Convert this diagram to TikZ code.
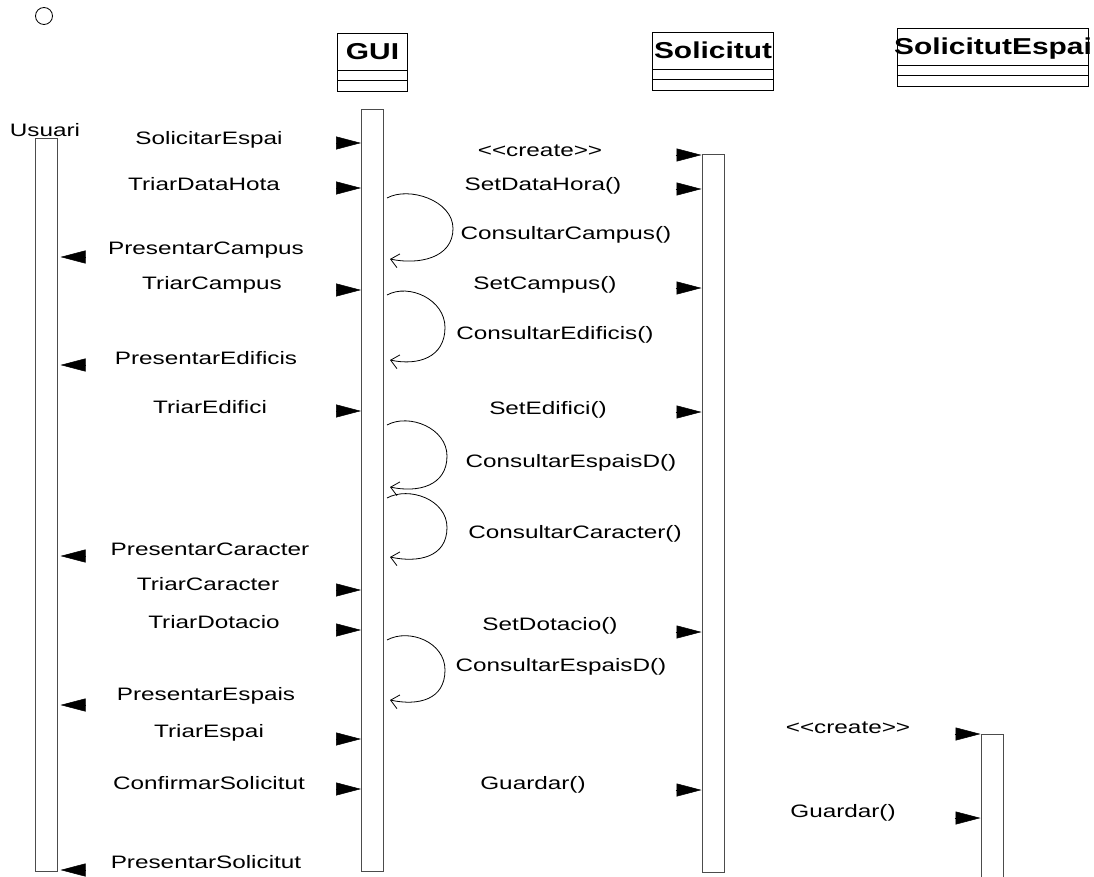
\documentclass[tikz,border=0pt]{standalone}
\usepackage{fontspec}
\setmainfont[FakeStretch=1.35,Ligatures=TeXOff]{Liberation Sans}
\newfontfamily\clsfont[FakeStretch=1.30]{Liberation Sans}
\usetikzlibrary{arrows.meta}

\tikzset{
  lifeline/.style={draw=black!70, fill=white, line width=1pt, minimum width=22pt, inner sep=0pt},
  clsbox/.style={draw, line width=1pt, inner sep=0pt},
  clsname/.style={font=\clsfont\bfseries\fontsize{23}{26}\selectfont, inner sep=0pt, anchor=base, yshift=-8pt},
  msglabel/.style={font=\fontsize{18}{21}\selectfont, inner sep=0pt, anchor=base, yshift=-6.5pt},
  msg/.style={-{Triangle[length=25pt,width=13pt]}, line width=0.5pt},
  selfloop/.style={-{Straight Barb[length=8pt,width=14pt]}, line width=0.8pt}
}

% call of GUI to itself: start y, end y, right x
\newcommand{\selfcall}[3]{%
  \draw[selfloop] ([xshift=3pt]gui.east |- 0,#1) .. controls +(22,-12) and +(0,-28) .. (#3,{(#1+#2)/2})
    .. controls +(0,30) and +(28,6) .. ([xshift=6pt]gui.east |- 0,#2);}

\begin{document}
\begin{tikzpicture}[x=1pt,y=-1pt]
\useasboundingbox (0,0) rectangle (1094,877);

\node[draw, circle, minimum size=17pt, inner sep=0pt, line width=0.8pt] (start) at (44,16) {};

% classes
\foreach \n/\x/\y/\w/\t in {guiCls/337/33/70/GUI, solicCls/652/32/121/Solicitut, espaiCls/897/28/191/SolicitutEspai}
{
\node[clsbox, minimum width=\w pt, minimum height=37pt, anchor=north west] (\n) at (\x,\y) {};
\draw[line width=1pt] (\n.south west) rectangle ++(\w,21) (\n.south west) ++(0,10) -- ++(\w,0);
\node[clsname] (\n txt) at (\n.center) {\t};
}

% lifelines
\node[lifeline, minimum height=733pt, anchor=north] (usuari) at (46,138) {};
\node[lifeline, minimum height=762pt, anchor=north] (gui) at (372.5,109) {};
\node[lifeline, minimum height=718pt, anchor=north] (solic) at (713,154) {};
\node[lifeline, minimum height=150pt, anchor=north] (espai) at (992,734) {};
\node[msglabel] (usuariLbl) at (45,130) {Usuari};

% messages
\foreach \y in {143,188,290,411,590,630,739,789}
\draw[msg] ([xshift=-25pt]gui.west |- 0,\y) -- (gui.west |- 0,\y);
\foreach \y in {257,365,556,705,870}
\draw[msg] ([xshift=28pt]usuari.east |- 0,\y) -- ([xshift=3pt]usuari.east |- 0,\y);
\foreach \y in {155,189,288,412,632,790}
\draw[msg] ([xshift=-26pt]solic.west |- 0,\y) -- (solic.west |- 0,\y);
\foreach \y in {734,818}
\draw[msg] ([xshift=-26pt]espai.west |- 0,\y) -- (espai.west |- 0,\y);

\selfcall{198}{259}{453}
\selfcall{295}{360}{445}
\selfcall{425}{487}{447}
\selfcall{498}{557}{447}
\selfcall{640}{700}{445}

\foreach \x/\y/\t [count=\i] in {209/138/SolicitarEspai, 204/184/TriarDataHota, 206/248/PresentarCampus,
  212/283/TriarCampus, 206/358/PresentarEdificis, 210/407/TriarEdifici, 210/549/PresentarCaracter,
  208/584/TriarCaracter, 214/622/TriarDotacio, 206/694/PresentarEspais, 209/731/TriarEspai,
  209/783/ConfirmarSolicitut, 206/862/PresentarSolicitut}
\node[msglabel] (usr\i) at (\x,\y) {\t};

\foreach \x/\y/\t [count=\i] in {540/150/<<create>>, 543/184/SetDataHora(), 566/233/ConsultarCampus(),
  545/283/SetCampus(), 555/333/ConsultarEdificis(), 548/408/SetEdifici(), 571/461/ConsultarEspaisD(),
  575/532/ConsultarCaracter(), 550/624/SetDotacio(), 561/665/ConsultarEspaisD(), 533/783/Guardar(),
  848/727/<<create>>, 843/811/Guardar()}
\node[msglabel] (op\i) at (\x,\y) {\t};
\end{tikzpicture}
\end{document}
